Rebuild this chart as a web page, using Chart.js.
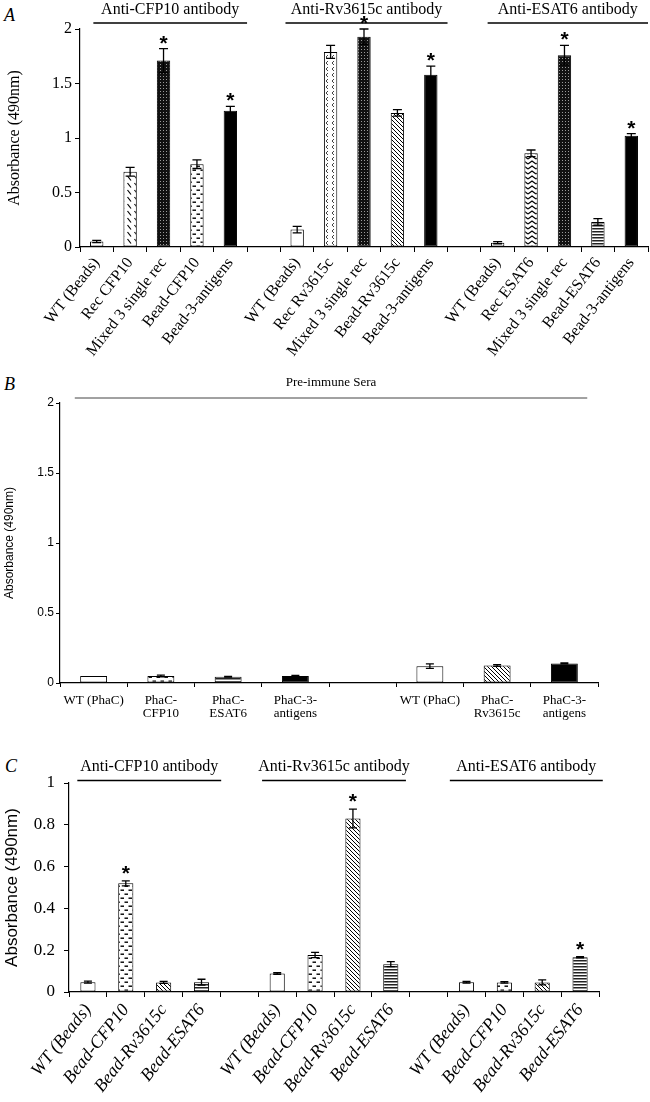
<!DOCTYPE html>
<html>
<head>
<meta charset="utf-8">
<script src="https://cdn.jsdelivr.net/npm/chart.js@4/dist/chart.umd.min.js"></script>
<style>
  body { margin: 0; background: #fff; width: 650px; height: 1102px; position: relative; overflow: hidden; }
  canvas { position: absolute; left: 0; }
  .tag { position: absolute; font-family: "Liberation Serif", serif; font-style: italic; font-size: 18px; line-height: 1; color: #000; }
</style>
</head>
<body>
<div class="tag" style="left:4px;top:6px">A</div>
<div class="tag" style="left:4px;top:375px">B</div>
<div class="tag" style="left:5px;top:757px">C</div>
<canvas id="chartA" width="650" height="378" style="top:0"></canvas>
<canvas id="chartB" width="650" height="347" style="top:375px"></canvas>
<canvas id="chartC" width="650" height="382" style="top:720px"></canvas>
<script>
// ---- panel A: immunised sera vs beads / recombinant proteins ----
const labelsA = ["WT (Beads)", "Rec CFP10", "Mixed 3 single rec", "Bead-CFP10", "Bead-3-antigens", "",
                 "WT (Beads)", "Rec Rv3615c", "Mixed 3 single rec", "Bead-Rv3615c", "Bead-3-antigens", "",
                 "WT (Beads)", "Rec ESAT6", "Mixed 3 single rec", "Bead-ESAT6", "Bead-3-antigens"];
const valuesA = [0.05, 0.69, 1.71, 0.76, 1.25, null,
                 0.16, 1.79, 1.93, 1.23, 1.58, null,
                 0.04, 0.86, 1.76, 0.23, 1.02];
const errorsA = [0.01, 0.04, 0.11, 0.04, 0.04, null,
                 0.03, 0.06, 0.07, 0.03, 0.08, null,
                 0.01, 0.03, 0.09, 0.03, 0.02];
const starsA = [2, 4, 8, 10, 14, 16];
const groupTitlesA = ["Anti-CFP10 antibody", "Anti-Rv3615c antibody", "Anti-ESAT6 antibody"];

// ---- panel B: pre-immune sera ----
const labelsB = ["WT (PhaC)", ["PhaC-", "CFP10"], ["PhaC-", "ESAT6"], ["PhaC-3-", "antigens"], "",
                 "WT (PhaC)", ["PhaC-", "Rv3615c"], ["PhaC-3-", "antigens"]];
const valuesB = [0.05, 0.05, 0.045, 0.05, null, 0.12, 0.125, 0.14];
const errorsB = [null, 0.006, 0.003, 0.005, null, 0.016, 0.006, 0.004];
const groupTitlesB = ["Pre-immune Sera"];

// ---- panel C: cross reactivity ----
const labelsC = ["WT (Beads)", "Bead-CFP10", "Bead-Rv3615c", "Bead-ESAT6", "",
                 "WT (Beads)", "Bead-CFP10", "Bead-Rv3615c", "Bead-ESAT6", "",
                 "WT (Beads)", "Bead-CFP10", "Bead-Rv3615c", "Bead-ESAT6"];
const valuesC = [0.047, 0.52, 0.046, 0.047, null,
                 0.088, 0.177, 0.83, 0.133, null,
                 0.047, 0.046, 0.046, 0.166];
const errorsC = [0.005, 0.012, 0.005, 0.014, null,
                 0.004, 0.013, 0.045, 0.012, null,
                 0.004, 0.004, 0.012, 0.003];
const starsC = [1, 7, 13];
const groupTitlesC = ["Anti-CFP10 antibody", "Anti-Rv3615c antibody", "Anti-ESAT6 antibody"];

// ---- fill patterns ----
function tile(w, h, bg, draw) {
  const c = document.createElement('canvas');
  c.width = w; c.height = h;
  const g = c.getContext('2d');
  g.fillStyle = bg; g.fillRect(0, 0, w, h);
  g.strokeStyle = '#000'; g.fillStyle = '#000';
  draw(g);
  return g.createPattern(c, 'repeat');
}
const fills = {
  open: '#fff',
  black: '#000',
  slash: tile(7, 7, '#fff', g => { g.lineWidth = 1.2; g.beginPath(); g.moveTo(1.5, 1); g.lineTo(5, 5.5); g.stroke(); }),
  dots: tile(3, 3, '#111', g => { g.fillStyle = '#9a9a9a'; g.fillRect(1, 1, 1, 1); }),
  dash: tile(8, 8, '#fff', g => { g.fillRect(0.5, 1.5, 3.5, 1.4); g.fillRect(4.5, 5.5, 3.5, 1.4); }),
  arrow: tile(6, 6, '#fff', g => { g.strokeStyle = '#444'; g.lineWidth = 1; g.beginPath(); g.moveTo(4, 1); g.lineTo(2, 3); g.lineTo(4, 5); g.stroke(); }),
  diag: tile(4, 4, '#fff', g => { g.lineWidth = 1; g.beginPath(); g.moveTo(-1, -1); g.lineTo(5, 5); g.moveTo(3, -1); g.lineTo(5, 1); g.moveTo(-1, 3); g.lineTo(1, 5); g.stroke(); }),
  zigzag: tile(8, 5, '#fff', g => { g.lineWidth = 1.2; g.beginPath(); g.moveTo(0, 4); g.lineTo(4, 1); g.lineTo(8, 4); g.stroke(); }),
  hstripe: tile(4, 3, '#fff', g => { g.fillStyle = '#222'; g.fillRect(0, 0, 4, 1.5); })
};
const fillA = ['open', 'slash', 'dots', 'dash', 'black', 'open',
               'open', 'arrow', 'dots', 'diag', 'black', 'open',
               'open', 'zigzag', 'dots', 'hstripe', 'black'].map(k => fills[k]);
const fillB = ['open', 'dash', 'hstripe', 'black', 'open', 'open', 'diag', 'black'].map(k => fills[k]);
const fillC = ['open', 'dash', 'diag', 'hstripe', 'open',
               'open', 'dash', 'diag', 'hstripe', 'open',
               'open', 'dash', 'diag', 'hstripe'].map(k => fills[k]);

Chart.defaults.color = '#000';

// error bars, asterisks and group headers
const extras = {
  id: 'extras',
  afterDatasetsDraw(chart, args, o) {
    const ctx = chart.ctx, x = chart.scales.x, y = chart.scales.y;
    const data = chart.data.datasets[0].data;
    const meta = chart.getDatasetMeta(0);
    ctx.save();
    ctx.strokeStyle = '#000';
    ctx.lineWidth = 1.3;
    o.errors.forEach((e, i) => {
      if (e == null || data[i] == null) return;
      const cx = meta.data[i].x;
      const top = y.getPixelForValue(data[i] + e), bot = y.getPixelForValue(data[i] - e);
      ctx.beginPath();
      ctx.moveTo(cx, top); ctx.lineTo(cx, bot);
      ctx.moveTo(cx - o.cap, top); ctx.lineTo(cx + o.cap, top);
      ctx.moveTo(cx - o.cap, bot); ctx.lineTo(cx + o.cap, bot);
      ctx.stroke();
    });
    ctx.fillStyle = '#000';
    ctx.textAlign = 'center';
    ctx.textBaseline = 'alphabetic';
    ctx.font = o.starFont;
    (o.stars || []).forEach(i => {
      const top = y.getPixelForValue(data[i] + (o.errors[i] || 0));
      ctx.fillText('*', meta.data[i].x, top + o.starShift);
    });
    const x0 = x.getPixelForValue(0), step = x.getPixelForValue(1) - x0;
    ctx.strokeStyle = o.lineColor;
    ctx.lineWidth = o.lineWidth;
    ctx.font = o.headFont;
    ctx.textBaseline = 'middle';
    o.titles.forEach((t, k) => {
      const [a, b] = o.spans[k];
      const xa = x0 + a * step, xb = x0 + b * step;
      ctx.beginPath(); ctx.moveTo(xa, o.lineY); ctx.lineTo(xb, o.lineY); ctx.stroke();
      ctx.fillText(t, (xa + xb) / 2, o.textY);
    });
    ctx.restore();
  }
};

function panel(id, cfg) {
  return new Chart(document.getElementById(id), {
    type: 'bar',
    data: {
      labels: cfg.labels,
      datasets: [{
        data: cfg.values,
        backgroundColor: cfg.fill,
        borderColor: '#000',
        borderWidth: 1,
        borderSkipped: false,
        barPercentage: 0.4,
        categoryPercentage: 1
      }]
    },
    options: {
      responsive: false,
      animation: false,
      layout: { padding: { top: cfg.padTop, right: cfg.padRight, left: 0, bottom: 0 } },
      plugins: {
        legend: { display: false },
        tooltip: { enabled: false },
        extras: cfg.extras
      },
      scales: {
        x: {
          grid: { drawOnChartArea: false, drawTicks: true, tickLength: cfg.xTick, color: '#000' },
          border: { color: '#000', width: 1.2 },
          ticks: {
            autoSkip: false,
            minRotation: cfg.rot, maxRotation: cfg.rot,
            padding: cfg.xPad,
            font: cfg.xFont
          },
          afterFit: s => { s.height = cfg.xHeight; }
        },
        y: {
          min: 0, max: cfg.max,
          grid: { drawOnChartArea: false, drawTicks: true, tickLength: cfg.yTick, color: '#000' },
          border: { color: '#000', width: 1.2 },
          ticks: { stepSize: cfg.step, padding: cfg.yPad, font: cfg.yFont, callback: v => String(+v.toFixed(2)) },
          title: { display: true, text: 'Absorbance (490nm)', font: cfg.titleFont, padding: { top: cfg.titlePad, bottom: 0 } },
          afterFit: s => { s.width = cfg.yWidth; }
        }
      }
    },
    plugins: [extras]
  });
}

panel('chartA', {
  labels: labelsA, values: valuesA, fill: fillA,
  padTop: 29, padRight: 2, max: 2, step: 0.5,
  yWidth: 80, xHeight: 131, rot: 52, xTick: 5, yTick: 5, xPad: 2, yPad: 3, titlePad: 5,
  xFont: { family: 'Liberation Serif', size: 16 },
  yFont: { family: 'Liberation Serif', size: 16 },
  titleFont: { family: 'Liberation Serif', size: 16 },
  extras: {
    errors: errorsA, stars: starsA, cap: 4.5, starFont: 'bold 21px "Liberation Sans"', starShift: 1,
    titles: groupTitlesA, spans: [[-0.1, 4.5], [5.65, 10.5], [11.7, 16.5]],
    lineY: 23, textY: 10, lineColor: '#000', lineWidth: 1.5,
    headFont: '16px "Liberation Serif"'
  }
});

panel('chartB', {
  labels: labelsB, values: valuesB, fill: fillB,
  padTop: 28, padRight: 52, max: 2, step: 0.5,
  yWidth: 60, xHeight: 39, rot: 0, xTick: 4, yTick: 4, xPad: 7, yPad: 2, titlePad: 2,
  xFont: { family: 'Liberation Serif', size: 13, lineHeight: 1.0 },
  yFont: { family: 'Liberation Sans', size: 12 },
  titleFont: { family: 'Liberation Sans', size: 12 },
  extras: {
    errors: errorsB, stars: [], cap: 4, starFont: 'bold 20px "Liberation Sans"', starShift: 0,
    titles: groupTitlesB, spans: [[-0.28, 7.34]],
    lineY: 23, textY: 8, lineColor: '#444', lineWidth: 1,
    headFont: '13px "Liberation Serif"'
  }
});

panel('chartC', {
  labels: labelsC, values: valuesC, fill: fillC,
  padTop: 63, padRight: 51, max: 1, step: 0.2,
  yWidth: 69, xHeight: 110, rot: 52, xTick: 5, yTick: 5, xPad: 3, yPad: 9, titlePad: 2,
  xFont: { family: 'Liberation Serif', size: 18, style: 'italic' },
  yFont: { family: 'Liberation Serif', size: 17 },
  titleFont: { family: 'Liberation Sans', size: 17 },
  extras: {
    errors: errorsC, stars: starsC, cap: 4, starFont: 'bold 21px "Liberation Sans"', starShift: -1,
    titles: groupTitlesC, spans: [[-0.28, 3.52], [4.6, 8.4], [9.56, 13.6]],
    lineY: 60.5, textY: 47, lineColor: '#000', lineWidth: 1.5,
    headFont: '16px "Liberation Serif"'
  }
});
</script>
</body>
</html>
